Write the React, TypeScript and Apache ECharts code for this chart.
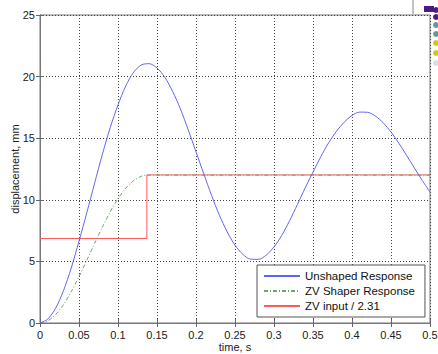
import React, { useEffect, useRef } from "react";
import * as echarts from "echarts";

const timeSteps = [0, 0.01, 0.02, 0.03, 0.04, 0.05, 0.06, 0.07, 0.08, 0.09, 0.1, 0.11, 0.12, 0.13, 0.14, 0.15, 0.16, 0.17, 0.18, 0.19, 0.2, 0.21, 0.22, 0.23, 0.24, 0.25, 0.26, 0.27, 0.28, 0.29, 0.3, 0.31, 0.32, 0.33, 0.34, 0.35, 0.36, 0.37, 0.38, 0.39, 0.4, 0.41, 0.42, 0.43, 0.44, 0.45, 0.46, 0.47, 0.48, 0.49, 0.5];
const unshapedResponse = [0, 0.32, 1.2, 2.61, 4.45, 6.65, 8.95, 11.35, 13.7, 15.85, 17.7, 19.25, 20.35, 20.95, 21.05, 20.7, 19.95, 18.8, 17.38, 15.68, 13.9, 12.1, 10.35, 8.75, 7.4, 6.32, 5.58, 5.18, 5.17, 5.5, 6.18, 7.12, 8.3, 9.62, 10.97, 12.25, 13.5, 14.62, 15.56, 16.3, 16.85, 17.12, 17.1, 16.8, 16.25, 15.5, 14.6, 13.6, 12.58, 11.58, 10.62];

const zvTime = [0, 0.01, 0.02, 0.03, 0.04, 0.05, 0.06, 0.07, 0.08, 0.09, 0.1, 0.11, 0.12, 0.13, 0.137, 0.5];
const zvResponse = [0, 0.18, 0.69, 1.49, 2.54, 3.77, 5.09, 6.46, 7.79, 9.02, 10.09, 10.95, 11.56, 11.91, 12.0, 12.0];

const inputTime = [0, 0.137, 0.137, 0.5];
const inputValue = [6.86, 6.86, 12.02, 12.02];

const xTickLabels = ["0", "0.05", "0.1", "0.15", "0.2", "0.25", "0.3", "0.35", "0.4", "0.45", "0.5"];
const yTickLabels = ["0", "5", "10", "15", "20", "25"];

const seriesNames = ["Unshaped Response", "ZV Shaper Response", "ZV input / 2.31"];

const FONT = "Liberation Sans, Arial, sans-serif";

export default function App() {
  const ref = useRef<HTMLDivElement>(null);

  useEffect(() => {
    if (!ref.current) return;
    const chart = echarts.init(ref.current, null, { renderer: "svg" });
    const pair = (xs: number[], ys: number[]) => xs.map((x, i) => [x, ys[i]]);
    const splitStyle = { show: true, lineStyle: { color: "#444", type: [1, 2] as any, width: 1 } };
    const tickIn = { show: true, inside: true, length: 4, lineStyle: { color: "#666" } };

    chart.setOption({
      animation: false,
      backgroundColor: "#fff",
      textStyle: { fontFamily: FONT },
      grid: {
        left: 40,
        right: 8,
        top: 15,
        bottom: 31,
        containLabel: false,
        outerBoundsMode: "none",
        show: true,
        borderColor: "#777",
        borderWidth: 1,
        backgroundColor: "#fff",
      },
      xAxis: [
        {
          type: "value",
          min: 0,
          max: 0.5,
          interval: 0.05,
          name: "time, s",
          nameLocation: "middle",
          nameGap: 18,
          nameMoveOverlap: false,
          nameTextStyle: { fontSize: 11, color: "#222", fontFamily: FONT, verticalAlign: "top" },
          axisLine: { show: true, lineStyle: { color: "#777" } },
          axisTick: tickIn,
          axisLabel: {
            fontSize: 11,
            color: "#222",
            margin: 6,
            fontFamily: FONT,
            formatter: (v: number) => xTickLabels[Math.round(v / 0.05)] ?? "",
          },
          splitLine: splitStyle,
        },
        {
          type: "value",
          position: "top",
          min: 0,
          max: 0.5,
          interval: 0.05,
          axisLine: { show: true, lineStyle: { color: "#777" } },
          axisTick: tickIn,
          axisLabel: { show: false },
          splitLine: { show: false },
        },
      ],
      yAxis: [
        {
          type: "value",
          min: 0,
          max: 25,
          interval: 5,
          name: "displacement, mm",
          nameLocation: "middle",
          nameGap: 20,
          nameMoveOverlap: false,
          nameTextStyle: { fontSize: 11, color: "#222", fontFamily: FONT },
          axisLine: { show: true, lineStyle: { color: "#777" } },
          axisTick: tickIn,
          axisLabel: {
            fontSize: 11,
            color: "#222",
            margin: 5,
            fontFamily: FONT,
            formatter: (v: number) => yTickLabels[Math.round(v / 5)] ?? "",
          },
          splitLine: splitStyle,
        },
        {
          type: "value",
          position: "right",
          min: 0,
          max: 25,
          interval: 5,
          axisLine: { show: true, lineStyle: { color: "#777" } },
          axisTick: tickIn,
          axisLabel: { show: false },
          splitLine: { show: false },
        },
      ],
      legend: {
        left: 257,
        top: 265,
        orient: "vertical",
        data: seriesNames,
        itemWidth: 36,
        itemHeight: 12,
        itemGap: 3,
        padding: [5, 10, 5, 6],
        backgroundColor: "#fff",
        borderColor: "#555",
        borderWidth: 1,
        borderRadius: 0,
        itemStyle: { opacity: 0 },
        textStyle: { fontSize: 11.5, color: "#111", fontFamily: FONT },
      },
      series: [
        {
          name: seriesNames[0],
          type: "line",
          data: pair(timeSteps, unshapedResponse),
          showSymbol: false,
          symbol: "none",
          smooth: 0.3,
          lineStyle: { color: "#6464f4", width: 1 },
          itemStyle: { color: "#6464f4" },
          z: 4,
        },
        {
          name: seriesNames[1],
          type: "line",
          data: pair(zvTime, zvResponse),
          showSymbol: false,
          symbol: "none",
          smooth: 0.3,
          lineStyle: { color: "#66a866", width: 1, type: [4, 2, 1, 2] },
          itemStyle: { color: "#66a866" },
          z: 3,
        },
        {
          name: seriesNames[2],
          type: "line",
          data: pair(inputTime, inputValue),
          showSymbol: false,
          symbol: "none",
          lineStyle: { color: "#ff5a5a", width: 1 },
          itemStyle: { color: "#ff5a5a" },
          z: 2,
        },
      ],
      graphic: [
        { type: "line", shape: { x1: 413, y1: 0, x2: 413, y2: 14 }, style: { stroke: "#888", lineWidth: 1 } },
        { type: "rect", shape: { x: 424, y: 6, width: 10, height: 6 }, style: { fill: "#4a1a86" } },
        { type: "circle", shape: { cx: 436, cy: 10, r: 3 }, style: { fill: "#4a1a86" } },
        { type: "circle", shape: { cx: 436, cy: 17, r: 3 }, style: { fill: "#4a1a86" } },
        { type: "circle", shape: { cx: 436, cy: 25, r: 3 }, style: { fill: "#5e9c9c" } },
        { type: "circle", shape: { cx: 436, cy: 34, r: 3 }, style: { fill: "#5e9c9c" } },
        { type: "circle", shape: { cx: 436, cy: 43, r: 3 }, style: { fill: "#cccc10" } },
        { type: "circle", shape: { cx: 436, cy: 53, r: 3 }, style: { fill: "#cccc10" } },
        { type: "circle", shape: { cx: 436, cy: 63, r: 3 }, style: { fill: "#dcdcee" } },
      ],
    });
    return () => chart.dispose();
  }, []);

  return <div ref={ref} style={{ width: 438, height: 354, position: "absolute", left: 0, top: 0 }} />;
}
